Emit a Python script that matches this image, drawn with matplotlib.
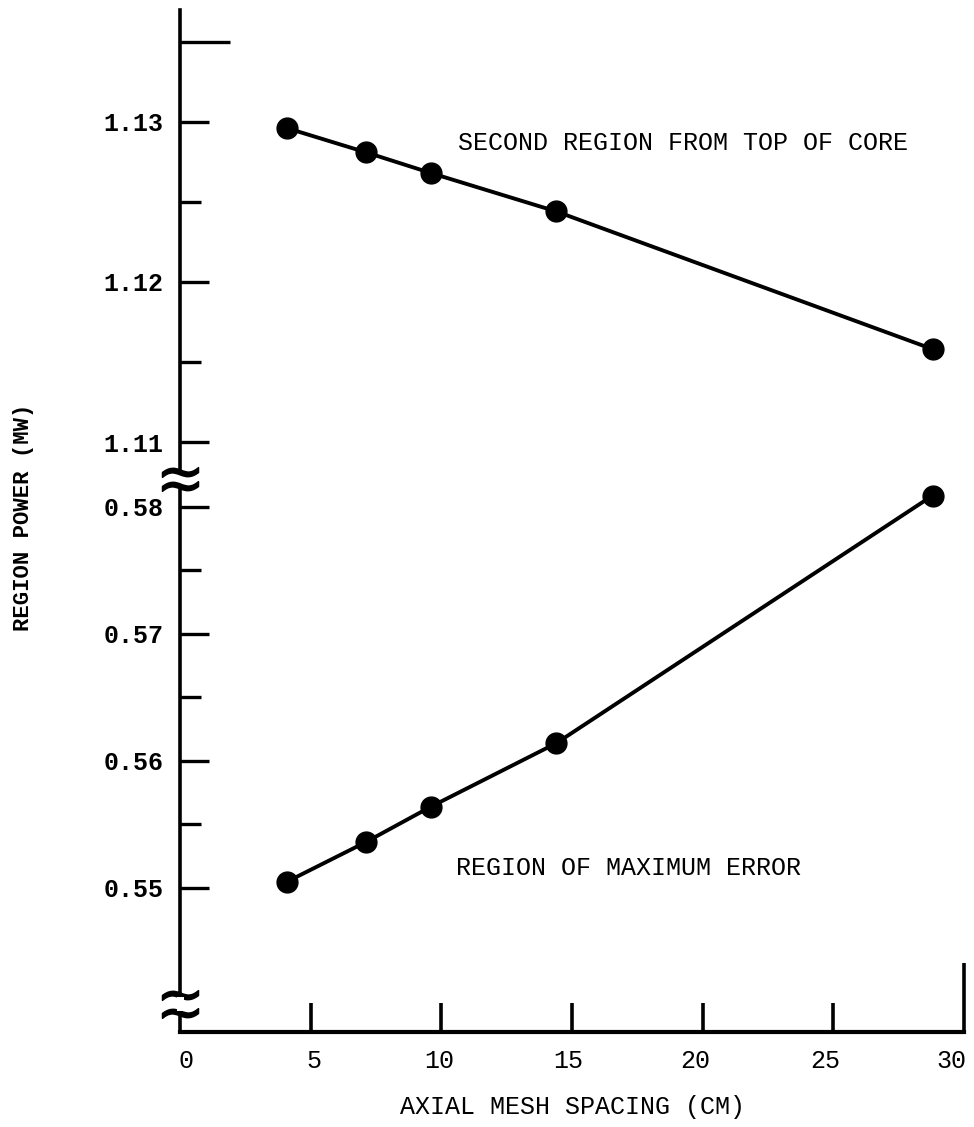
import matplotlib
matplotlib.use('Agg')
import matplotlib.pyplot as plt
import matplotlib.transforms as mtransforms

plt.rcParams['font.family'] = ['Liberation Mono', 'DejaVu Sans']

# ── data ───────────────────────────────────────────────────
mesh_spacing = [4.1, 7.1, 9.6, 14.4, 28.8]
power_second_region = [1.1296, 1.1281, 1.1268, 1.1244, 1.1158]
power_max_error = [0.5505, 0.5536, 0.5564, 0.5614, 0.5809]

upper_ticks = [1.11, 1.12, 1.13]
upper_minor = [1.115, 1.125, 1.135]
lower_ticks = [0.55, 0.56, 0.57, 0.58]
lower_minor = [0.555, 0.565, 0.575]
x_ticks = [0, 5, 10, 15, 20, 25, 30]

W, H = 974, 1127
fig = plt.figure(figsize=(W / 100, H / 100), dpi=100)

left = 180 / W
width = 784 / W
ax_top = fig.add_axes([left, 1 - 472 / H, width, (472 - 10) / H])
ax_bot = fig.add_axes([left, 1 - 1032 / H, width, (1032 - 486) / H])

lw_axis = 2.6
tick_font = dict(fontsize=18, fontweight='bold')

for ax in (ax_top, ax_bot):
    ax.set_xlim(0, 30)
    for s in ('top', 'right'):
        ax.spines[s].set_visible(False)
    ax.spines['left'].set_linewidth(lw_axis)
    ax.tick_params(axis='y', which='major', direction='in', length=21, width=2.4,
                   pad=12, labelsize=18)
    ax.tick_params(axis='y', which='minor', direction='in', length=15, width=2.4)

# upper part
ax_top.plot(mesh_spacing, power_second_region, color='black', lw=2.8,
            marker='o', markersize=15, clip_on=False, zorder=5)
ax_top.set_ylim(1.10813, 1.13698)
ax_top.set_yticks(upper_ticks)
ax_top.set_yticklabels(['%.2f' % v for v in upper_ticks], **tick_font)
ax_top.set_yticks(upper_minor, minor=True)
ax_top.spines['bottom'].set_visible(False)
ax_top.set_xticks([])
# long end tick at the top of the scale
ax_top.yaxis.get_minor_ticks()[-1].tick1line.set_markersize(36)
ax_top.text(0.355, power_second_region[1] + 0.0006, 'SECOND REGION FROM TOP OF CORE',
            transform=mtransforms.blended_transform_factory(ax_top.transAxes, ax_top.transData),
            fontsize=18, va='center', ha='left')

# lower part
ax_bot.plot(mesh_spacing, power_max_error, color='black', lw=2.8,
            marker='o', markersize=15, clip_on=False, zorder=5)
ax_bot.set_ylim(0.53866, 0.58165)
ax_bot.set_yticks(lower_ticks)
ax_bot.set_yticklabels(['%.2f' % v for v in lower_ticks], **tick_font)
ax_bot.set_yticks(lower_minor, minor=True)
ax_bot.spines['bottom'].set_linewidth(lw_axis + 0.4)
ax_bot.set_xticks(x_ticks)
ax_bot.set_xticklabels([str(v) for v in x_ticks], fontsize=18)
ax_bot.tick_params(axis='x', direction='in', length=21, width=2.6, pad=12)
ax_bot.xaxis.get_major_ticks()[0].tick1line.set_visible(False)
ax_bot.xaxis.get_major_ticks()[-1].tick1line.set_markersize(50)
# the hand-lettered labels drift left along the axis
label_shift_px = [6, 3, -2, -4, -7, -8, -13]
for lab, dx in zip(ax_bot.get_xticklabels(), label_shift_px):
    lab.set_transform(lab.get_transform() +
                      mtransforms.ScaledTranslation(dx / 100, 0, fig.dpi_scale_trans))
ax_bot.text(0.352, 0.5516, 'REGION OF MAXIMUM ERROR',
            transform=mtransforms.blended_transform_factory(ax_bot.transAxes, ax_bot.transData),
            fontsize=18, va='center', ha='left')

# axis break marks
for ax, yf in ((ax_top, 0.0), (ax_bot, 1.0), (ax_bot, 0.068), (ax_bot, 0.035)):
    ax.plot([0], [yf], transform=ax.transAxes, marker=r'$\sim$', markersize=26,
            color='black', clip_on=False, zorder=6)
ax_bot.plot([0, 0], [0.045, 0.058], transform=ax_bot.transAxes, color='white',
            lw=5, clip_on=False, zorder=7)

ax_bot.set_xlabel('AXIAL MESH SPACING (CM)', fontsize=18, labelpad=16)
fig.text(24 / W, 1 - 517 / H, 'REGION POWER (MW)', rotation=90, fontsize=16,
         fontweight='bold', ha='center', va='center')

fig.savefig('out.png', dpi=100)
